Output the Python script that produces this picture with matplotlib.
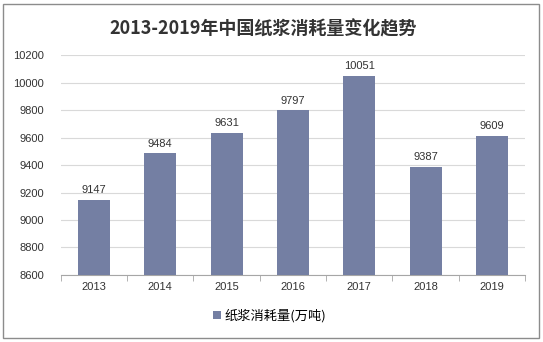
import numpy as np
import matplotlib.pyplot as plt
from matplotlib.patches import Rectangle

plt.rcParams['font.family'] = ['Liberation Sans', 'Noto Sans CJK SC', 'DejaVu Sans']

years = ['2013', '2014', '2015', '2016', '2017', '2018', '2019']
consumption = [9147, 9484, 9631, 9797, 10051, 9387, 9609]
yticks = [8600, 8800, 9000, 9200, 9400, 9600, 9800, 10000, 10200]

bar_color = '#747fa3'
grid_color = '#d9d9d9'

fig = plt.figure(figsize=(5.43, 3.42), dpi=100)
ax = fig.add_axes([0.112, 0.196, 0.855, 0.643])

x = np.arange(len(years))
bars = ax.bar(x, consumption, width=0.48, color=bar_color, label='纸浆消耗量(万吨)', zorder=3)

for xi, v in zip(x, consumption):
    ax.text(xi, v + 35, str(v), ha='center', va='bottom', fontsize=8, color='#333333')

ax.set_ylim(8600, 10200)
ax.set_xlim(-0.5, len(years) - 0.5)
ax.set_yticks(yticks)
ax.set_yticklabels([str(t) for t in yticks], fontsize=8, color='#333333')
ax.set_xticks(x)
ax.set_xticklabels(years, fontsize=8, color='#333333')
ax.set_xticks(np.arange(-0.5, len(years)), minor=True)

ax.yaxis.grid(True, color=grid_color, linewidth=0.8, zorder=0)
ax.tick_params(axis='y', length=0, pad=12)
ax.tick_params(axis='x', which='major', length=0, pad=5)
ax.tick_params(axis='x', which='minor', length=4, color='#a6a6a6')

for s in ['top', 'right', 'left']:
    ax.spines[s].set_visible(False)
ax.spines['bottom'].set_color('#a6a6a6')

fig.text(0.485, 0.915, '2013-2019年中国纸浆消耗量变化趋势', ha='center', va='center',
         fontsize=13, fontweight='bold', family=['Noto Sans CJK SC', 'DejaVu Sans'], color='#333333')

ax.legend(loc='upper center', bbox_to_anchor=(0.45, -0.1), frameon=False,
          handlelength=0.6, handleheight=0.6, handletextpad=0.3,
          prop={'family': ['Noto Sans CJK SC', 'DejaVu Sans'], 'size': 9.5})

# outer frame
fig.patches.append(Rectangle((0.006, 0.012), 0.986, 0.976, transform=fig.transFigure,
                             fill=False, edgecolor='#8c8c8c', linewidth=1))

fig.savefig('out.png', dpi=100)
